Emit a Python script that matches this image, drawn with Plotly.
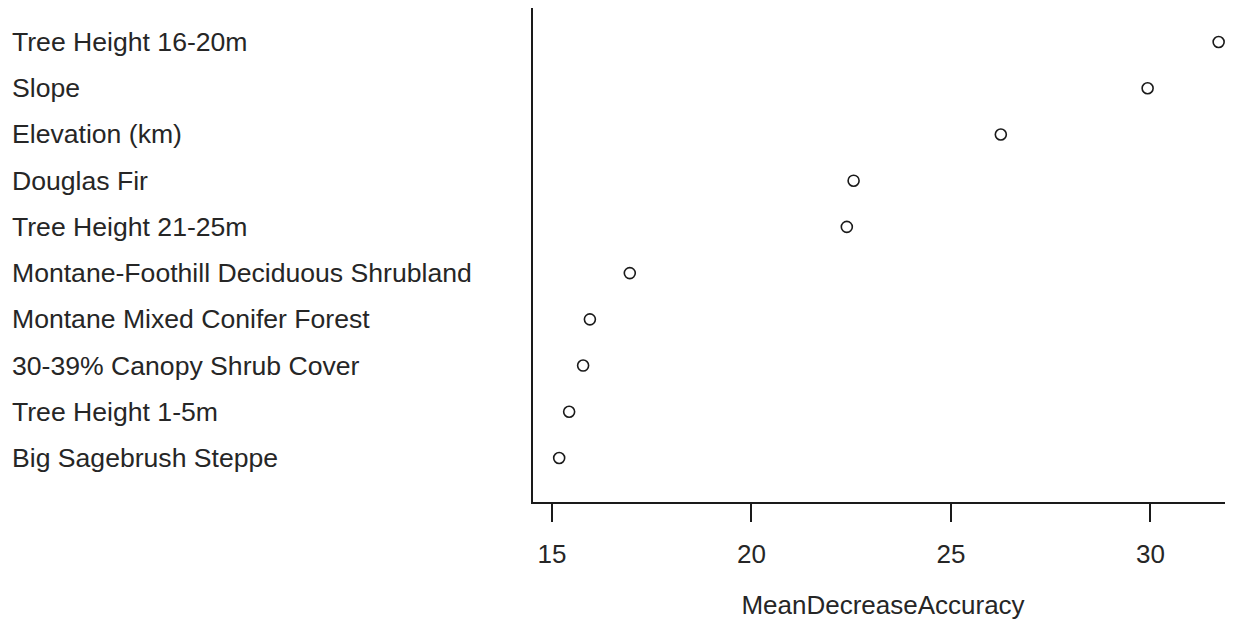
import plotly.graph_objects as go

variables = [
    "Big Sagebrush Steppe",
    "Tree Height 1-5m",
    "30-39% Canopy Shrub Cover",
    "Montane Mixed Conifer Forest",
    "Montane-Foothill Deciduous Shrubland",
    "Tree Height 21-25m",
    "Douglas Fir",
    "Elevation (km)",
    "Slope",
    "Tree Height 16-20m",
]
mean_decrease_accuracy = [15.18, 15.43, 15.78, 15.95, 16.95, 22.39, 22.56, 26.25, 29.93, 31.71]
x_ticks = [15, 20, 25, 30]

FONT = "Liberation Sans, Arial, sans-serif"
TXT = "#262626"

# the page body adds an 8px offset, so the figure is sized to fit inside the window
W, H = 1225, 631
ML, MB = 525, 137
plot_w = W - ML

positions = list(range(1, len(variables) + 1))

fig = go.Figure()
fig.add_trace(go.Scatter(
    x=mean_decrease_accuracy,
    y=positions,
    mode="markers",
    marker=dict(symbol="circle-open", size=11, color="#1a1a1a", line=dict(width=1.6, color="#1a1a1a")),
    showlegend=False,
    hoverinfo="x",
    cliponaxis=False,
))

for p, name in zip(positions, variables):
    fig.add_annotation(
        x=(2 - ML) / plot_w, xref="paper", xanchor="left",
        y=p, yref="y", yanchor="middle",
        text=name, showarrow=False,
        font=dict(family=FONT, size=26.6, color=TXT),
    )

fig.update_layout(
    width=W, height=H,
    margin=dict(l=ML, r=0, t=0, b=MB, pad=0),
    paper_bgcolor="white", plot_bgcolor="white",
    font=dict(family=FONT, size=26, color=TXT),
    xaxis=dict(
        range=[14.524, 32.07],
        tickvals=x_ticks,
        ticks="outside", ticklen=18, tickwidth=1.5, tickcolor="#1a1a1a",
        ticklabelstandoff=10,
        showline=True, linecolor="#1a1a1a", linewidth=2,
        showgrid=False, zeroline=False,
        tickfont=dict(family=FONT, size=26, color=TXT),
        title=dict(text="MeanDecreaseAccuracy", font=dict(family=FONT, size=26, color=TXT), standoff=28),
        fixedrange=True,
    ),
    yaxis=dict(
        range=[0.048, 10.736],
        showticklabels=False, ticks="",
        showline=True, linecolor="#1a1a1a", linewidth=2,
        showgrid=False, zeroline=False,
        fixedrange=True,
    ),
)

fig.write_html("out.html")
